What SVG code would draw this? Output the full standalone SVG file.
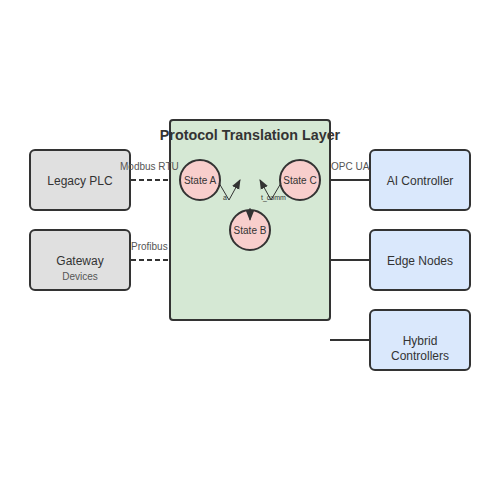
<svg xmlns="http://www.w3.org/2000/svg" width="500" height="500" viewBox="0 0 500 500">
<defs>
<style>
.box{stroke:#333;stroke-width:2}
.gray{fill:#e0e0e0}
.blue{fill:#dae8fc}
.state{fill:#f8cecc;stroke:#333;stroke-width:2}
.t{font-family:"Liberation Sans",Arial,sans-serif;fill:#333;text-anchor:middle}
.lbl{font-family:"Liberation Sans",Arial,sans-serif;fill:#555;font-size:10px}
.tiny{font-family:"Liberation Sans",Arial,sans-serif;fill:#333;font-size:7px}
.dash{stroke:#333;stroke-width:2;stroke-dasharray:5,3;fill:none}
.solid{stroke:#333;stroke-width:2;fill:none}
.tr{stroke:#333;stroke-width:1;fill:none}
</style>
<marker id="ah" markerWidth="10" markerHeight="10" refX="9" refY="5" orient="auto" markerUnits="userSpaceOnUse">
<path d="M0,1 L10,5 L0,9 Z" fill="#333"/>
</marker>
</defs>
<rect width="500" height="500" fill="#ffffff"/>
<g id="protocol-layer">
<rect x="170" y="120" width="160" height="200" rx="3" fill="#d5e8d4" class="box"/>
<text x="250" y="140" class="t" font-size="14.3" font-weight="bold">Protocol Translation Layer</text>
</g>
<g id="transition-labels">
<text x="240" y="215" class="tiny">c_b</text>
</g>
<g id="state-a">
<circle cx="200" cy="180" r="20" class="state"/>
<text x="200" y="184" class="t" font-size="10">State A</text>
</g>
<g id="state-c">
<circle cx="300" cy="180" r="20" class="state"/>
<text x="300" y="184" class="t" font-size="10">State C</text>
</g>
<g id="state-b">
<circle cx="250" cy="230" r="20" class="state"/>
<text x="250" y="234" class="t" font-size="10">State B</text>
</g>
<g id="legacy-plc">
<rect x="30" y="150" width="100" height="60" rx="5" class="box gray"/>
<text x="80" y="185" class="t" font-size="12">Legacy PLC</text>
</g>
<g id="gateway">
<rect x="30" y="230" width="100" height="60" rx="5" class="box gray"/>
<text x="80" y="265" class="t" font-size="12">Gateway</text>
<text x="80" y="280" class="t" font-size="10" style="fill:#555">Devices</text>
</g>
<g id="ai-controller">
<rect x="370" y="150" width="100" height="60" rx="5" class="box blue"/>
<text x="420" y="185" class="t" font-size="12">AI Controller</text>
</g>
<g id="edge-nodes">
<rect x="370" y="230" width="100" height="60" rx="5" class="box blue"/>
<text x="420" y="265" class="t" font-size="12">Edge Nodes</text>
</g>
<g id="hybrid-controllers">
<rect x="370" y="310" width="100" height="60" rx="5" class="box blue"/>
<text x="420" y="345" class="t" font-size="12">Hybrid</text>
<text x="420" y="360" class="t" font-size="12">Controllers</text>
</g>
<g id="connectors">
<line x1="131" y1="180" x2="169" y2="180" class="dash"/>
<text x="120" y="170" class="lbl">Modbus RTU</text>
<line x1="131" y1="260" x2="169" y2="260" class="dash"/>
<text x="131" y="250" class="lbl">Profibus</text>
<line x1="331" y1="180" x2="369" y2="180" class="solid"/>
<text x="331" y="170" class="lbl">OPC UA</text>
<line x1="331" y1="260" x2="369" y2="260" class="solid"/>
<line x1="330" y1="340" x2="369" y2="340" class="solid"/>
<polyline points="219,183 229,200 240,180" class="tr" marker-end="url(#ah)"/>
<text x="223" y="200" class="tiny">a</text>
<polyline points="281,183 271,200 260,180" class="tr" marker-end="url(#ah)"/>
<text x="261" y="200" class="tiny">t_comm</text>
<line x1="250" y1="208" x2="250" y2="220" class="tr" marker-end="url(#ah)"/>
</g>
</svg>
